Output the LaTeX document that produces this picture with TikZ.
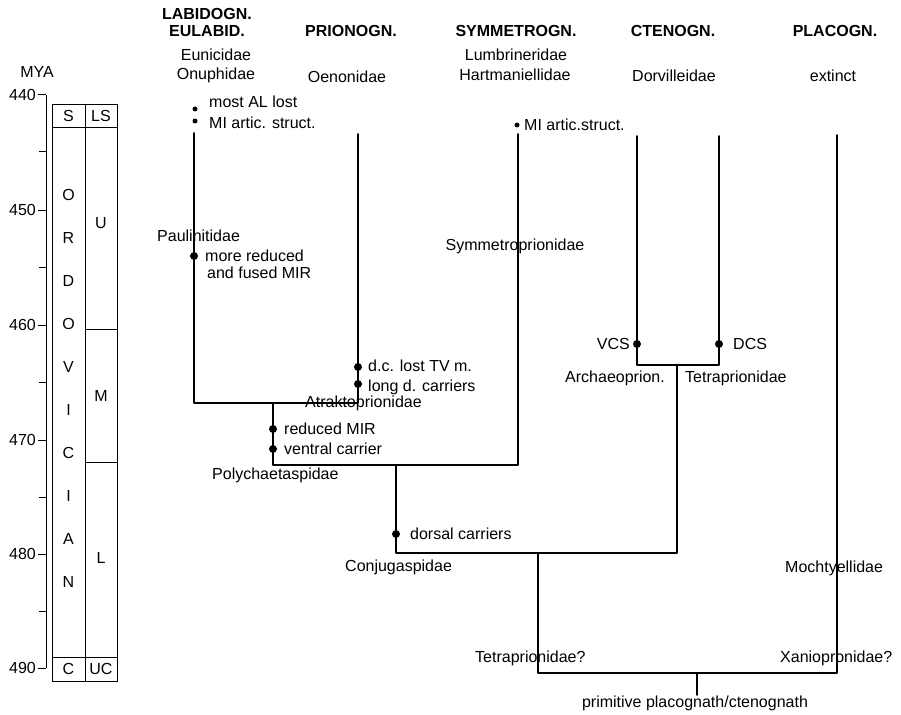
\documentclass[tikz,border=0pt]{standalone}
\usepackage{fontspec}
\setmainfont{Liberation Sans}
\begin{document}
\begin{tikzpicture}[x=1pt,y=-1pt,
  line/.style={line width=1.6pt, line cap=round, line join=round},
  thin/.style={line width=1pt},
  txt/.style={inner sep=0pt, font=\fontsize{16}{18}\selectfont},
  hdr/.style={inner sep=0pt, font=\fontsize{16}{18}\selectfont\bfseries},
  bigdot/.style={circle, fill=black, inner sep=0pt, minimum size=8pt},
  smalldot/.style={circle, fill=black, inner sep=0pt, minimum size=5pt}]
\useasboundingbox (0,0) rectangle (901,714);

% ---------- time axis ----------
\node[txt] (mya) at (37,72) {MYA};
\coordinate (axtop) at (46,95);
\coordinate (axbot) at (46,668);
\draw[thin] (axtop) -- (axbot);
\foreach \v/\y in {440/95,450/210,460/325,470/440,480/554,490/668}{
  \draw[thin] (38,\y) -- (46,\y);
  \node[txt, anchor=east] (lab\v) at (36,\y) {\v};
}
\foreach \y in {152,267,382,497,611}{
  \draw[thin] (39,\y) -- (46,\y);
}

% ---------- stratigraphic column ----------
\draw[thin] (52,105) rectangle (117,681);
\draw[thin] (85,105) -- (85,681);
\draw[thin] (52,128) -- (117,128);
\draw[thin] (52,657) -- (117,657);
\draw[thin] (85,329) -- (117,329);
\draw[thin] (85,462) -- (117,462);
\node[txt] (cS) at (68.5,116) {S};
\node[txt] (cLS) at (101,116) {LS};
\node[txt] (cC) at (68.5,669) {C};
\node[txt] (cUC) at (101,669) {UC};
\node[txt] (cU) at (101,223) {U};
\node[txt] (cM) at (101,396) {M};
\node[txt] (cL) at (101,558) {L};
\foreach \l [count=\i from 0] in {O,R,D,O,V,I,C,I,A,N}{
  \node[txt] (ord\i) at (68.5,{195+43*\i}) {\l};
}

% ---------- headers ----------
\node[hdr] (h1a) at (207,14) {LABIDOGN.};
\node[hdr] (h1b) at (207,31) {EULABID.};
\node[hdr] (h2) at (351,31) {PRIONOGN.};
\node[hdr] (h3) at (516,31) {SYMMETROGN.};
\node[hdr] (h4) at (673,31) {CTENOGN.};
\node[hdr] (h5) at (835,31) {PLACOGN.};
\node[txt] (f1a) at (216,55) {Eunicidae};
\node[txt] (f1b) at (216,75) {Onuphidae};
\node[txt] (f2) at (347,77) {Oenonidae};
\node[txt] (f3a) at (516,55) {Lumbrineridae};
\node[txt] (f3b) at (515,75) {Hartmaniellidae};
\node[txt] (f4) at (674,76) {Dorvilleidae};
\node[txt] (f5) at (833,76) {extinct};

% ---------- tree coordinates ----------
\coordinate (L1top) at (194,133);
\coordinate (L1bot) at (194,403);
\coordinate (P1top) at (358,134);
\coordinate (P1bot) at (358,403);
\coordinate (J1) at (273,403);
\coordinate (J1b) at (273,465);
\coordinate (S1top) at (518,134);
\coordinate (S1bot) at (518,465);
\coordinate (J2) at (396,465);
\coordinate (J2b) at (396,553);
\coordinate (C1top) at (637,136);
\coordinate (C1bot) at (637,365);
\coordinate (C2top) at (719,136);
\coordinate (C2bot) at (719,365);
\coordinate (J3) at (677,365);
\coordinate (J3b) at (677,553);
\coordinate (J4) at (538,553);
\coordinate (J4b) at (538,673);
\coordinate (Ptop) at (837,135);
\coordinate (Pbot) at (837,673);
\coordinate (root) at (697,673);
\coordinate (rootb) at (697,695);

\draw[line] (L1top) -- (L1bot) -- (P1bot) -- (P1top);
\draw[line] (J1) -- (J1b) -- (S1bot) -- (S1top);
\draw[line] (J2) -- (J2b) -- (J3b) -- (J3);
\draw[line] (C1top) -- (C1bot) -- (C2bot) -- (C2top);
\draw[line] (J4) -- (J4b) -- (Pbot) -- (Ptop);
\draw[line] (root) -- (rootb);

% ---------- character dots ----------
\node[smalldot] (d1) at (195,109) {};
\node[smalldot] (d2) at (195,121) {};
\node[smalldot] (d3) at (517,125) {};
\node[bigdot] (d4) at (194,256) {};
\node[bigdot] (d5) at (358,367) {};
\node[bigdot] (d6) at (358,384) {};
\node[bigdot] (d7) at (273,429) {};
\node[bigdot] (d8) at (273,449) {};
\node[bigdot] (d9) at (396,534) {};
\node[bigdot] (d10) at (637,344) {};
\node[bigdot] (d11) at (719,344) {};

% ---------- labels ----------
\node[txt, anchor=west] (t1) at (209,102) {most AL lost};
\node[txt, anchor=west] (t2) at (209,123) {MI artic. struct.};
\node[txt, anchor=west] (t3) at (524,125) {MI artic.struct.};
\node[txt, anchor=west] (t4) at (157,236) {Paulinitidae};
\node[txt, anchor=west] (t5) at (205,256) {more reduced};
\node[txt, anchor=west] (t6) at (207,273) {and fused MIR};
\node[txt] (t7) at (515,246) {Symmetroprionidae};
\node[txt, anchor=west] (t8) at (368,366) {d.c. lost TV m.};
\node[txt, anchor=west] (t9) at (368,387) {long d. carriers};
\node[txt, anchor=west] (t10) at (305,403) {Atraktoprionidae};
\node[txt, anchor=west] (t11) at (284,429) {reduced MIR};
\node[txt, anchor=west] (t12) at (284,449) {ventral carrier};
\node[txt, anchor=west] (t13) at (212,475) {Polychaetaspidae};
\node[txt, anchor=west] (t14) at (410,534) {dorsal carriers};
\node[txt, anchor=west] (t15) at (345,567) {Conjugaspidae};
\node[txt, anchor=east] (t16) at (630,344) {VCS};
\node[txt, anchor=west] (t17) at (733,344) {DCS};
\node[txt, anchor=west] (t18) at (565,378) {Archaeoprion.};
\node[txt, anchor=west] (t19) at (685,378) {Tetraprionidae};
\node[txt, anchor=west] (t20) at (785,568) {Mochtyellidae};
\node[txt, anchor=west] (t21) at (475,658) {Tetraprionidae?};
\node[txt, anchor=west] (t22) at (780,658) {Xaniopronidae?};
\node[txt] (t23) at (695,703) {primitive placognath/ctenognath};
\end{tikzpicture}
\end{document}
